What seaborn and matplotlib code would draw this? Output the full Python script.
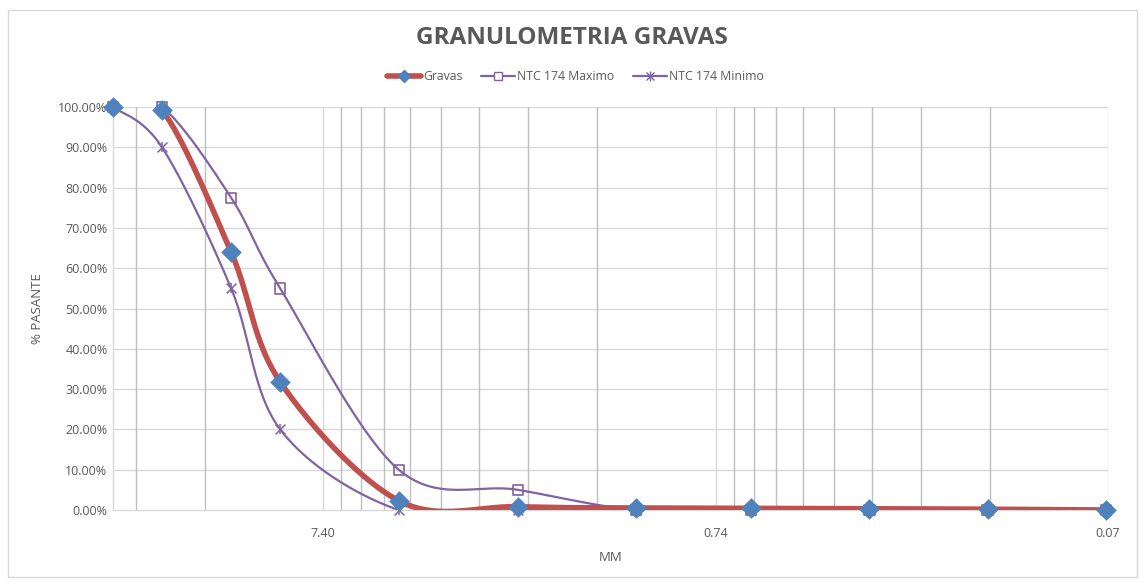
import numpy as np
import pandas as pd
import matplotlib
matplotlib.use("Agg")
import matplotlib.pyplot as plt
from matplotlib.lines import Line2D
from matplotlib.patches import Rectangle
from matplotlib.legend_handler import HandlerTuple
import seaborn as sns

# ---- data ----
sizes_mm = [25.4, 19.05, 12.7, 9.525, 4.75, 2.36, 1.18, 0.6, 0.3, 0.15, 0.075]
gravas = [100.0, 99.2, 64.0, 31.8, 2.3, 0.8, 0.5, 0.4, 0.3, 0.2, 0.0]
ntc_max = [100.0, 100.0, 77.5, 55.0, 10.0, 5.0, 0.0, 0.0, 0.0, 0.0, 0.0]
ntc_min = [100.0, 90.0, 55.0, 20.0, 0.0, 0.0, 0.0, 0.0, 0.0, 0.0, 0.0]
series_names = ["Gravas", "NTC 174 Maximo", "NTC 174 Minimo"]
x_tick_vals = [7.4, 0.74, 0.074]
x_tick_labels = ["7.40", "0.74", "0.07"]
title = "GRANULOMETRIA GRAVAS"

sns.set_theme(style="white")
plt.rcParams["font.family"] = ["Open Sans", "DejaVu Sans"]

W, H = 1144, 583
fig = plt.figure(figsize=(W / 100, H / 100), dpi=100)
L, R, T, B = 113, 1108, 107, 510
ax = fig.add_axes([L / W, 1 - B / H, (R - L) / W, (B - T) / H])

XMAX, XMIN = 25.4, 0.074
ax.set_xscale("log")
ax.set_xlim(XMAX, XMIN)
ax.set_ylim(0, 100)

# pixel scale factors for Excel-like smoothing (in display space)
decade_px = (R - L) / np.log10(XMAX / XMIN)
ypx = (B - T) / 100.0


def smooth(xs, ys, n=40):
    u = np.log10(np.asarray(xs, float)) * decade_px
    v = np.asarray(ys, float) * ypx
    P = np.column_stack([u, v])
    out = []
    m = len(P)
    for i in range(m - 1):
        p0 = P[i - 1] if i > 0 else P[i]
        p1 = P[i]
        p2 = P[i + 1]
        p3 = P[i + 2] if i + 2 < m else P[i + 1]
        c1 = p1 + (p2 - p0) / 6.0
        c2 = p2 - (p3 - p1) / 6.0
        t = np.linspace(0, 1, n)[:, None]
        seg = ((1 - t) ** 3) * p1 + 3 * ((1 - t) ** 2) * t * c1 + 3 * (1 - t) * t ** 2 * c2 + t ** 3 * p2
        if i > 0:
            seg = seg[1:]
        out.append(seg)
    S = np.vstack(out)
    return 10 ** (S[:, 0] / decade_px), S[:, 1] / ypx


purple = "#8064A2"
red = "#C0504D"
blue = "#4F81BD"

frames = []
for name, vals in zip(series_names, [gravas, ntc_max, ntc_min]):
    sx, sy = smooth(sizes_mm, vals)
    frames.append(pd.DataFrame({"x": sx, "y": sy, "serie": name}))
curves = pd.concat(frames, ignore_index=True)

# gridlines
for yv in range(10, 101, 10):
    ax.axhline(yv, color="#D9D9D9", lw=1, zorder=0)
minor = []
for base in [0.074, 0.74, 7.4]:
    for k in range(2, 10):
        v = base * k
        if v < XMAX:
            minor.append(v)
for v in minor:
    ax.axvline(v, color="#BFBFBF", lw=1, zorder=0)
for v in x_tick_vals:
    ax.axvline(v, color="#D9D9D9", lw=1, zorder=0)

# curves
sns.lineplot(data=curves[curves.serie == "NTC 174 Maximo"], x="x", y="y", sort=False,
             color=purple, lw=1.6, ax=ax, zorder=3, legend=False)
sns.lineplot(data=curves[curves.serie == "NTC 174 Minimo"], x="x", y="y", sort=False,
             color=purple, lw=1.6, ax=ax, zorder=3, legend=False)
sns.lineplot(data=curves[curves.serie == "Gravas"], x="x", y="y", sort=False,
             color=red, lw=4, ax=ax, zorder=4, legend=False)

pts = pd.DataFrame({"x": sizes_mm, "gravas": gravas, "max": ntc_max, "min": ntc_min})
sns.scatterplot(data=pts, x="x", y="max", marker="s", s=55, facecolor="none",
                edgecolor=purple, linewidth=1.2, ax=ax, zorder=5, legend=False, clip_on=False)
sns.scatterplot(data=pts, x="x", y="min", marker="x", s=50, color=purple,
                linewidth=1.1, ax=ax, zorder=5, legend=False, clip_on=False)
sns.scatterplot(data=pts, x="x", y="min", marker="|", s=60, color=purple,
                linewidth=1.1, ax=ax, zorder=5, legend=False, clip_on=False)
sns.scatterplot(data=pts, x="x", y="gravas", marker="D", s=110, color=blue,
                edgecolor=blue, linewidth=0, ax=ax, zorder=6, legend=False, clip_on=False)

# axes styling
ax.set_xticks(x_tick_vals)
ax.set_xticklabels(x_tick_labels)
ax.set_xticks([], minor=True)
ax.set_yticks(range(0, 101, 10))
ax.set_yticklabels([f"{v:.2f}%" for v in range(0, 101, 10)])
ax.tick_params(axis="both", which="both", length=0, labelsize=9, colors="#595959")
ax.tick_params(axis="x", pad=12)
ax.tick_params(axis="y", pad=4)
for s in ["top", "right"]:
    ax.spines[s].set_visible(False)
for s in ["left", "bottom"]:
    ax.spines[s].set_color("#D9D9D9")
    ax.spines[s].set_linewidth(1)
ax.set_xlabel("MM", color="#595959", fontsize=9.5, labelpad=8)
ax.set_ylabel("% PASANTE", color="#595959", fontsize=9.5, labelpad=10)

fig.text(0.5, 1 - 38 / H, title, ha="center", va="center", fontsize=17.5,
         fontweight="bold", color="#595959")

h_grav = Line2D([0], [0], color=red, lw=4, marker="D", markersize=6, markerfacecolor=blue,
                markeredgecolor=blue)
h_max = Line2D([0], [0], color=purple, lw=1.6, marker="s", markersize=6, markerfacecolor="white",
               markeredgecolor=purple)
h_min_x = Line2D([0], [0], color=purple, lw=1.6, marker="x", markersize=6, markeredgecolor=purple)
h_min_v = Line2D([0], [0], color=purple, lw=0, marker="|", markersize=7, markeredgecolor=purple)
fig.legend([h_grav, h_max, (h_min_x, h_min_v)], series_names, loc="center",
           bbox_to_anchor=(0.503, 1 - 77 / H), ncol=3,
           frameon=False, fontsize=8.8, labelcolor="#595959", handlelength=2.8,
           columnspacing=1.5, handletextpad=0.15,
           handler_map={tuple: HandlerTuple(ndivide=1, pad=0)})

fig.patches.append(Rectangle((8 / W, 1 - 577 / H), (1137 - 8) / W, (577 - 10) / H,
                             transform=fig.transFigure, fill=False, edgecolor="#D9D9D9", lw=1))

fig.savefig("out.png", dpi=100)
